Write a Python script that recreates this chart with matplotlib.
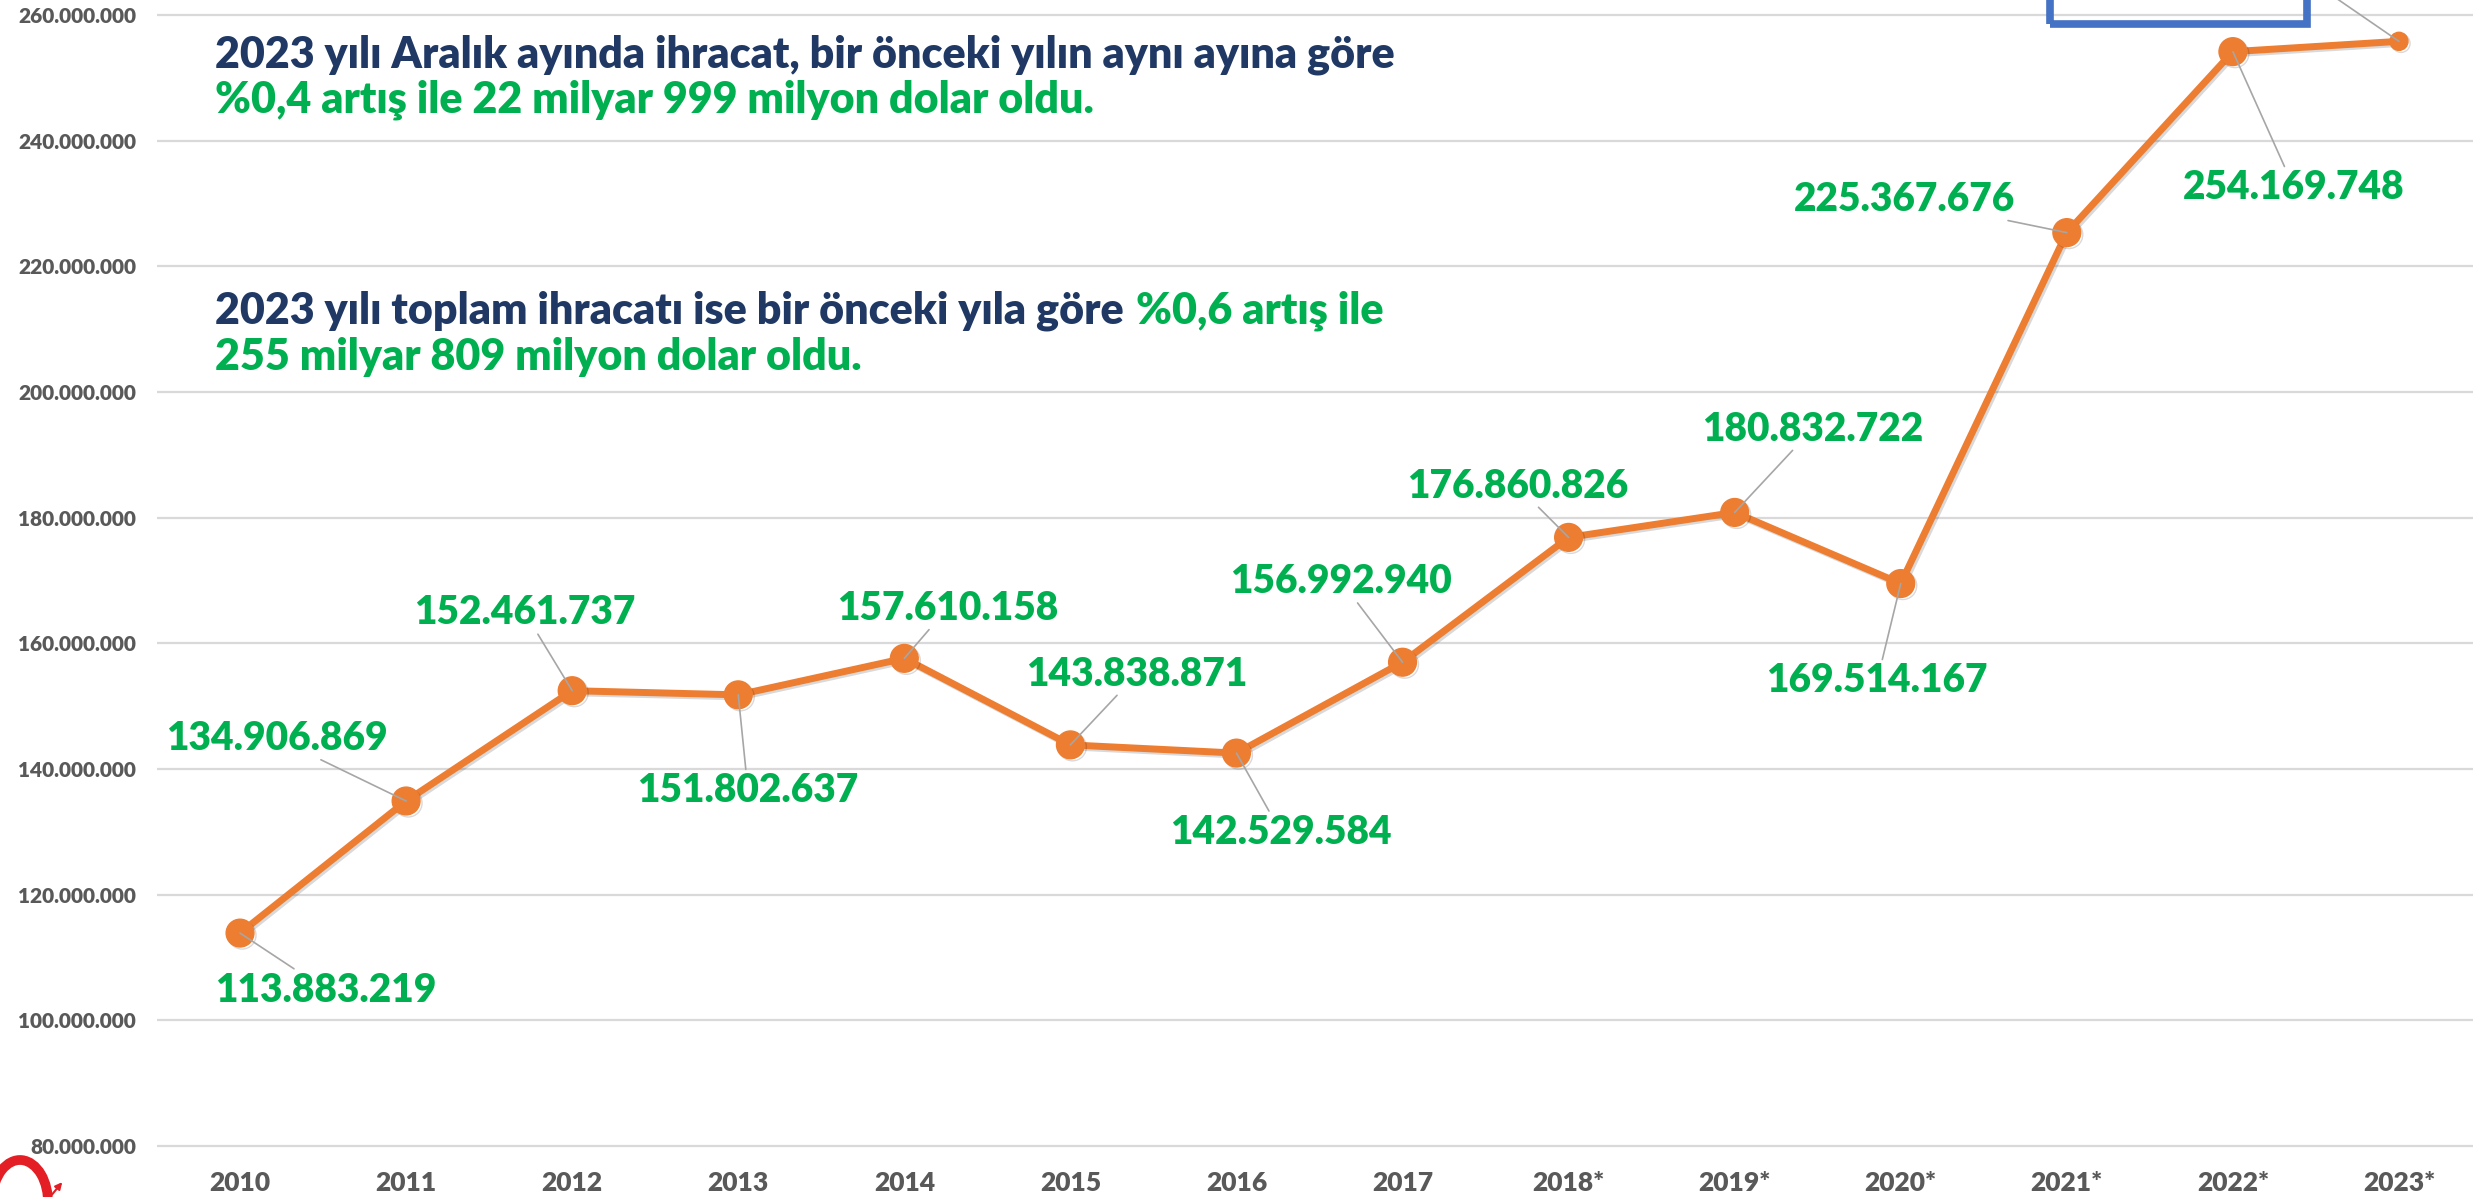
import matplotlib
matplotlib.use("Agg")
import matplotlib.pyplot as plt
from matplotlib.patches import Rectangle, Arc, FancyArrowPatch
import matplotlib.patheffects as pe

# ---------------- data ----------------
years = ["2010", "2011", "2012", "2013", "2014", "2015", "2016", "2017",
         "2018*", "2019*", "2020*", "2021*", "2022*", "2023*"]
exports = [113883219, 134906869, 152461737, 151802637, 157610158, 143838871,
           142529584, 156992940, 176860826, 180832722, 169514167, 225367676,
           254169748, 255809000]
yticks = [80000000, 100000000, 120000000, 140000000, 160000000, 180000000,
          200000000, 220000000, 240000000, 260000000]

# label offsets (points) relative to each marker; the 2023 label lies above the visible area
label_offsets = [(62, -41), (-93, 45), (-34, 56), (7, -69), (31, 36), (48, 51),
                 (32, -57), (-44, 58), (-37, 37), (56, 60), (-17, -70),
                 (-117, 24), (44, -98), (-80, 55)]
show_label = [True] * 13 + [False]
marker_sizes = [20] * 13 + [13]

# ---------------- style ----------------
W, H, DPI = 2473, 1197, 100
FONT = ["Lato", "DejaVu Sans"]
plt.rcParams["font.family"] = FONT
ORANGE = "#ED7D31"
GREEN = "#00B050"
NAVY = "#1F3864"
GRAY_TXT = "#595959"

fig = plt.figure(figsize=(W / DPI, H / DPI), dpi=DPI)

PX_PER_M = (1146 - 15) / 180.0
y_top_val = 260 + 15 / PX_PER_M
y_bot_val = 79.5
bottom_px = 1146 + 0.5 * PX_PER_M
ax_left = 157 / W
ax_right = 2482 / W
ax = fig.add_axes([ax_left, 1 - bottom_px / H, ax_right - ax_left, bottom_px / H])
ax.set_xlim(-0.5, len(years) - 0.5)
ax.set_ylim(y_bot_val * 1e6, y_top_val * 1e6)

for s in ax.spines.values():
    s.set_visible(False)
ax.set_yticks(yticks)
ax.set_yticklabels([f"{v:,}".replace(",", ".") for v in yticks],
                   fontsize=15, fontweight="heavy", color=GRAY_TXT)
ax.set_xticks(range(len(years)))
ax.set_xticklabels(years, fontsize=19, fontweight="heavy", color=GRAY_TXT)
ax.tick_params(axis="y", length=0, pad=15)
ax.tick_params(axis="x", length=0, pad=16)
ax.grid(axis="y", color="#D9D9D9", lw=1.6)
ax.set_axisbelow(True)

xs = list(range(len(years)))
shadow = [pe.SimpleLineShadow(offset=(1.5, -1.5), alpha=0.15, shadow_color="k"), pe.Normal()]
ax.plot(xs, exports, color=ORANGE, lw=5, solid_capstyle="round", zorder=3,
        path_effects=shadow, clip_on=False)
for xi, vi, ms in zip(xs, exports, marker_sizes):
    ax.plot([xi], [vi], "o", ms=ms, color=ORANGE, mec=ORANGE, zorder=4,
            path_effects=shadow, clip_on=False)

for xi, vi, (dx, dy), show in zip(xs, exports, label_offsets, show_label):
    txt = f"{vi:,}".replace(",", ".") if show else ""
    ax.annotate(txt, xy=(xi, vi), xytext=(dx, dy),
                textcoords="offset points", ha="center", va="center",
                fontsize=28, fontweight="heavy", color=GREEN,
                arrowprops=dict(arrowstyle="-", color="#A6A6A6", lw=1.2,
                                shrinkA=0, shrinkB=0),
                annotation_clip=False, zorder=5)

# ---------------- headline texts ----------------
def fx(x):
    return x / W

def fy(y):
    return 1 - y / H

tkw = dict(fontsize=31, fontweight="heavy", va="center", ha="left")
fig.text(fx(215), fy(55), "2023 yılı Aralık ayında ihracat, bir önceki yılın aynı ayına göre",
         color=NAVY, **tkw)
fig.text(fx(215), fy(100), "%0,4 artış ile 22 milyar 999 milyon dolar oldu.",
         color=GREEN, **tkw)
t_a = fig.text(fx(215), fy(311), "2023 yılı toplam ihracatı ise bir önceki yıla göre",
               color=NAVY, **tkw)
fig.text(fx(215), fy(357), "255 milyar 809 milyon dolar oldu.", color=GREEN, **tkw)
fig.canvas.draw()
bb = t_a.get_window_extent()
fig.text((bb.x1 + 12) / W, fy(311), "%0,6 artış ile", color=GREEN, **tkw)

# ---------------- decorations ----------------
fig.patches.append(Rectangle((fx(2050), fy(24)), (2307 - 2050) / W, 0.2,
                             transform=fig.transFigure, fill=False,
                             edgecolor="#4472C4", lw=5.5, clip_on=False))
fig.patches.append(Arc((fx(20), fy(1202)), 56 / W, 84 / H, theta1=-10, theta2=165,
                       transform=fig.transFigure, color="#E31E24", lw=7))
fig.patches.append(FancyArrowPatch((fx(50), fy(1197)), (fx(64), fy(1180)),
                                   transform=fig.transFigure, arrowstyle="-|>",
                                   mutation_scale=10, color="#E31E24", lw=1.5))

fig.savefig("out.png", dpi=DPI)
